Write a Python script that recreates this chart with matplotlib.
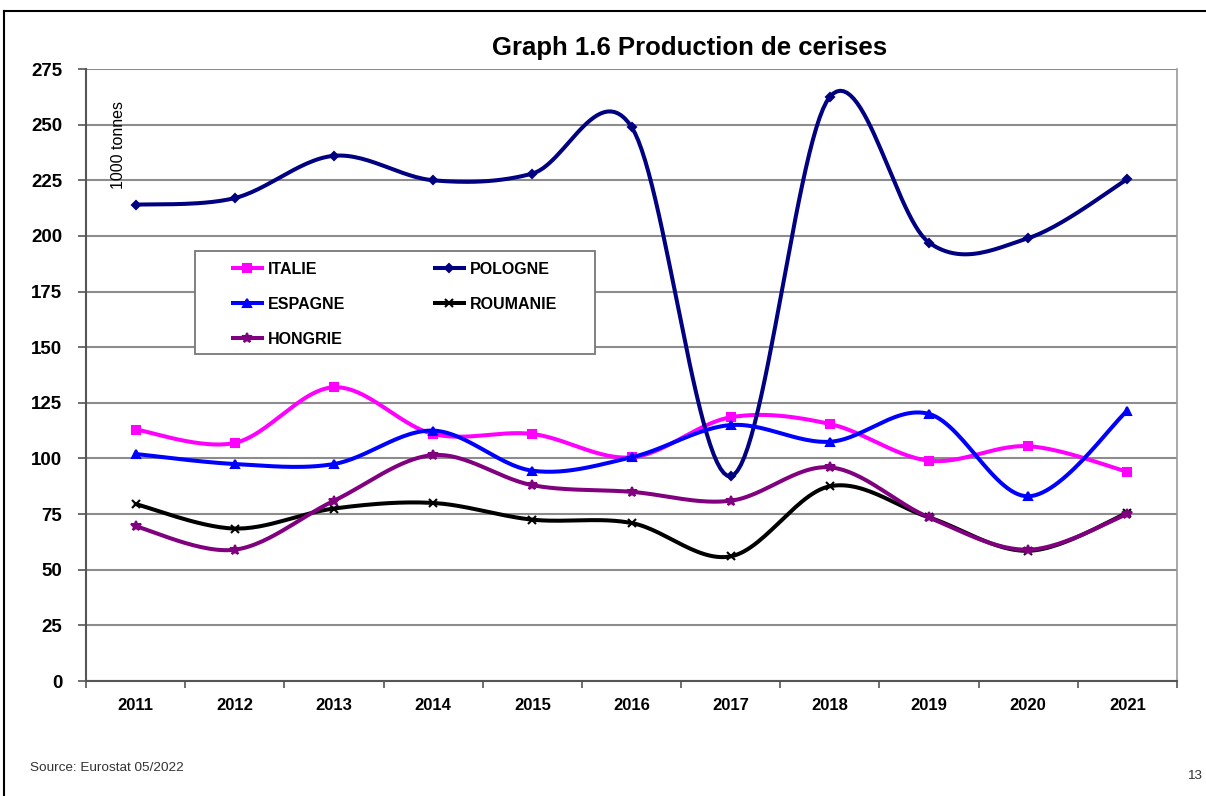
import numpy as np
import matplotlib.pyplot as plt
from matplotlib.lines import Line2D
from matplotlib.patches import Rectangle
from matplotlib.ticker import FixedLocator

plt.rcParams['font.family'] = ['Liberation Sans', 'DejaVu Sans']

years = ['2011', '2012', '2013', '2014', '2015', '2016', '2017', '2018', '2019', '2020', '2021']

# 1000 tonnes
italie = [113, 107, 132, 111, 111, 100.5, 118.5, 115.5, 99, 105.5, 94]
pologne = [214, 217, 236, 225, 228, 249, 92, 262.5, 197, 199, 225.5]
espagne = [102, 97.5, 97.5, 112.5, 94.5, 100.5, 115, 107.5, 120, 83, 121.5]
roumanie = [79.5, 68.5, 77.5, 80, 72.5, 71, 56, 87.5, 73.5, 58.5, 75.5]
hongrie = [69.5, 59, 81, 101.5, 88, 85, 81, 96, 73.5, 59, 75]

series = [
    ('ITALIE', italie, '#FF00FF', 's', 6),
    ('POLOGNE', pologne, '#000080', 'D', 4),
    ('ESPAGNE', espagne, '#0000FF', '^', 6),
    ('ROUMANIE', roumanie, '#000000', 'x', 6),
    ('HONGRIE', hongrie, '#800080', '*', 7),
]


# smoothed line like excel does it (bezier through the points)
def smooth(xs, ys, n=30):
    p = np.column_stack([xs, ys]).astype(float)
    ext = np.vstack([p[0], p, p[-1]])
    out = []
    t = np.linspace(0, 1, n)[:, None]
    for i in range(len(p) - 1):
        p0 = ext[i + 1]
        p3 = ext[i + 2]
        c1 = p0 + (ext[i + 2] - ext[i]) / 6
        c2 = p3 - (ext[i + 3] - ext[i + 1]) / 6
        seg = ((1 - t) ** 3) * p0 + 3 * ((1 - t) ** 2) * t * c1 + 3 * (1 - t) * t ** 2 * c2 + t ** 3 * p3
        out.append(seg if i == 0 else seg[1:])
    out = np.vstack(out)
    return out[:, 0], out[:, 1]


fig = plt.figure(figsize=(12.06, 7.96), dpi=100)
ax = fig.add_axes([86 / 1206, 1 - 681 / 796, 1091 / 1206, 612 / 796])

x = np.arange(len(years))
handles = []
for k, (name, vals, col, mk, ms) in enumerate(series):
    sx, sy = smooth(x, vals)
    ax.plot(sx, sy, color=col, lw=2.9, zorder=3 + k, solid_capstyle='round')
    ax.plot(x, vals, ls='none', marker=mk, ms=ms, color=col, mec=col, mew=1.5, zorder=3 + k)
    handles.append(Line2D([], [], color=col, lw=2.9, marker=mk, ms=ms, mec=col, mew=1.5))

ax.set_xlim(-0.5, 10.5)
ax.set_ylim(0, 275)
ax.set_yticks(np.arange(0, 276, 25))
ax.set_xticks(x)
ax.set_xticklabels(years)
ax.xaxis.set_minor_locator(FixedLocator(np.arange(-0.5, 11, 1)))
ax.tick_params(axis='x', which='major', length=0, pad=12, labelsize=12)
ax.tick_params(axis='x', which='minor', length=5, width=1.2, color='#555555', direction='out')
ax.tick_params(axis='y', length=6, width=1.2, color='#555555', pad=11, labelsize=13.5)
for lab in ax.get_xticklabels() + ax.get_yticklabels():
    lab.set_fontweight('bold')

ax.grid(axis='y', color='#8c8c8c', lw=1.5, zorder=1)
ax.set_axisbelow(True)
for s in ['left', 'bottom']:
    ax.spines[s].set_color('#555555')
    ax.spines[s].set_linewidth(1.5)
ax.spines['top'].set_visible(False)
ax.spines['right'].set_color('#9a9a9a')
ax.spines['right'].set_linewidth(1.2)

ax.text(0.030, 0.876, '1000 tonnes', transform=ax.transAxes, rotation=90,
        ha='center', va='center', fontsize=11.5)

# legend box drawn on its own, entries inside without frame (row-major order)
box = Rectangle((195 / 1206, 1 - 354 / 796), 400 / 1206, 103 / 796, transform=fig.transFigure,
                facecolor='white', edgecolor='#777777', lw=1.3, zorder=9)
fig.add_artist(box)
order = [0, 2, 4, 1, 3]
leg = fig.legend([handles[i] for i in order], [series[i][0] for i in order], ncol=2,
                 loc='upper left', bbox_to_anchor=(233 / 1206, 1 - 262 / 796),
                 frameon=False, prop={'weight': 'bold', 'size': 11.5}, handlelength=1.8,
                 handletextpad=0.4, columnspacing=5.6, labelspacing=1.25,
                 borderpad=0, borderaxespad=0)
leg.set_zorder(10)

fig.text(690 / 1206, 1 - 48 / 796, 'Graph 1.6 Production de cerises', ha='center', va='center',
         fontsize=18.5, fontweight='bold')
fig.text(30 / 1206, 1 - 768 / 796, 'Source: Eurostat 05/2022', ha='left', va='center',
         fontsize=9.7, color='#333333')
fig.text(1195 / 1206, 1 - 776 / 796, '13', ha='center', va='center', fontsize=9.7, color='#333333')

# page border (top and left only visible)
fig.add_artist(Line2D([4 / 1206, 1], [1 - 11 / 796, 1 - 11 / 796], color='black', lw=1.5,
                      transform=fig.transFigure))
fig.add_artist(Line2D([4 / 1206, 4 / 1206], [0, 1 - 11 / 796], color='black', lw=1.5,
                      transform=fig.transFigure))

fig.savefig('out.png', dpi=100)
